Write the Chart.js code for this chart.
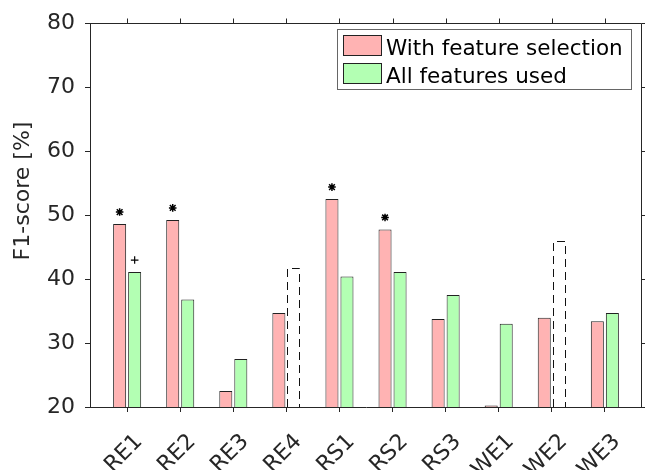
<!DOCTYPE html>
<html>
<head>
<meta charset="utf-8">
<script src="https://cdn.jsdelivr.net/npm/chart.js@4.4.1/dist/chart.umd.min.js"></script>
<style>
  html, body { margin: 0; padding: 0; background: #fff; }
  canvas { display: block; }
</style>
</head>
<body>
<canvas id="chart" width="645" height="470"></canvas>
<script>
// --- data ---
const categories = ['RE1', 'RE2', 'RE3', 'RE4', 'RS1', 'RS2', 'RS3', 'WE1', 'WE2', 'WE3'];
const withSelection = [48.6, 49.25, 22.5, 34.7, 52.5, 47.75, 33.75, 20.25, 33.95, 33.4];
const allFeatures = [41.1, 36.8, 27.5, 41.75, 40.4, 41.1, 37.5, 33.0, 45.9, 34.7];
const allFeaturesDashed = [false, false, false, true, false, false, false, false, true, false];
const selectionMarks = ['*', '*', '', '', '*', '*', '', '', '', ''];
const allFeaturesMarks = ['+', '', '', '', '', '', '', '', '', ''];
const yTicks = [20, 30, 40, 50, 60, 70, 80];

const AXIS = '#262626';
const FONT = 'DejaVu Sans';
const PINK = '#ffb3b3';
const GREEN = '#b3ffb3';

// extra drawing: box, mirrored ticks, dashed bars, markers, legend, y label
const decorations = {
    id: 'decorations',
    afterDraw(chart) {
        const ctx = chart.ctx;
        const area = chart.chartArea;
        const xs = chart.scales.x;
        const ys = chart.scales.y;
        const L = Math.round(area.left) + 0.5;
        const R = Math.round(area.right) - 0.5;
        const T = Math.round(area.top) + 0.5;

        ctx.save();
        ctx.strokeStyle = AXIS;
        ctx.lineWidth = 1;

        // top and right box lines
        ctx.beginPath();
        ctx.moveTo(L, T);
        ctx.lineTo(R, T);
        ctx.lineTo(R, Math.round(area.bottom));
        // top ticks
        categories.forEach((c, i) => {
            const px = Math.round(xs.getPixelForValue(i + 1)) + 0.5;
            ctx.moveTo(px, T);
            ctx.lineTo(px, T - 5);
        });
        // right ticks
        yTicks.forEach(v => {
            const py = Math.round(ys.getPixelForValue(v)) + 0.5;
            ctx.moveTo(R, py);
            ctx.lineTo(R + 5, py);
        });
        ctx.stroke();

        // dashed outlines
        const greenMeta = chart.getDatasetMeta(1);
        ctx.strokeStyle = '#111';
        ctx.setLineDash([8, 5]);
        greenMeta.data.forEach((el, i) => {
            if (!allFeaturesDashed[i]) return;
            const left = Math.round(el.x - el.width / 2) + 0.5;
            const right = Math.round(el.x + el.width / 2) - 0.5;
            const top = Math.round(el.y) + 0.5;
            const bottom = area.bottom;
            ctx.beginPath();
            ctx.moveTo(left, bottom);
            ctx.lineTo(left, top);
            ctx.lineTo(right, top);
            ctx.lineTo(right, bottom);
            ctx.stroke();
        });
        ctx.setLineDash([]);

        // significance markers
        const drawMark = (type, x, y) => {
            ctx.beginPath();
            if (type === '*') {
                const r = 3.8;
                ctx.moveTo(x - r, y); ctx.lineTo(x + r, y);
                ctx.moveTo(x, y - r); ctx.lineTo(x, y + r);
                ctx.moveTo(x - r * 0.75, y - r * 0.75); ctx.lineTo(x + r * 0.75, y + r * 0.75);
                ctx.moveTo(x - r * 0.75, y + r * 0.75); ctx.lineTo(x + r * 0.75, y - r * 0.75);
            } else if (type === '+') {
                const r = 3.8;
                ctx.moveTo(x - r, y); ctx.lineTo(x + r, y);
                ctx.moveTo(x, y - r); ctx.lineTo(x, y + r);
            }
            ctx.stroke();
        };
        ctx.strokeStyle = '#000';
        ctx.lineWidth = 1.5;
        chart.getDatasetMeta(0).data.forEach((el, i) => {
            if (selectionMarks[i]) drawMark(selectionMarks[i], el.x, el.y - 12);
        });
        ctx.lineWidth = 1.2;
        greenMeta.data.forEach((el, i) => {
            if (allFeaturesMarks[i]) drawMark(allFeaturesMarks[i], el.x, el.y - 12);
        });

        // legend box
        ctx.lineWidth = 1;
        ctx.fillStyle = '#fff';
        ctx.fillRect(337.5, 29.5, 294, 60);
        ctx.strokeStyle = '#666';
        ctx.strokeRect(337.5, 29.5, 294, 60);
        ctx.font = '21.5px ' + FONT;
        ctx.textBaseline = 'alphabetic';
        ctx.textAlign = 'left';
        chart.data.datasets.forEach((ds, i) => {
            const y0 = 35.5 + i * 28;
            ctx.fillStyle = ds.legendColor;
            ctx.fillRect(343.5, y0, 38, 20);
            ctx.strokeStyle = '#222';
            ctx.strokeRect(343.5, y0, 38, 20);
            ctx.fillStyle = '#000';
            ctx.fillText(ds.label, 386, y0 + 19);
        });

        // y-axis title
        ctx.fillStyle = AXIS;
        ctx.font = '22px ' + FONT;
        ctx.translate(23, 191);
        ctx.rotate(-Math.PI / 2);
        ctx.textAlign = 'center';
        ctx.textBaseline = 'middle';
        ctx.fillText('F1-score [%]', 0, 0);

        ctx.restore();
    }
};

const ctx = document.getElementById('chart');
new Chart(ctx, {
    type: 'bar',
    data: {
        datasets: [
            {
                label: 'With feature selection',
                data: withSelection.map((v, i) => ({ x: i + 1, y: v })),
                backgroundColor: PINK,
                legendColor: PINK,
                borderColor: '#222',
                borderWidth: 1,
                categoryPercentage: 0.566,
                barPercentage: 0.867
            },
            {
                label: 'All features used',
                data: allFeatures.map((v, i) => ({ x: i + 1, y: v })),
                backgroundColor: allFeaturesDashed.map(d => d ? 'rgba(0,0,0,0)' : GREEN),
                legendColor: GREEN,
                borderColor: '#222',
                borderWidth: allFeaturesDashed.map(d => d ? 0 : 1),
                categoryPercentage: 0.566,
                barPercentage: 0.867
            }
        ]
    },
    options: {
        responsive: false,
        animation: false,
        layout: { padding: { top: 19, right: 3, left: 0, bottom: 0 } },
        plugins: {
            legend: { display: false },
            tooltip: { enabled: false }
        },
        scales: {
            x: {
                type: 'linear',
                min: 0.3,
                max: 10.7,
                offset: false,
                afterBuildTicks: s => { s.ticks = categories.map((c, i) => ({ value: i + 1 })); },
                afterFit: s => { s.height = 63; },
                grid: { offset: false, drawOnChartArea: false, drawTicks: true, tickLength: 5, color: AXIS },
                border: { color: AXIS, width: 1 },
                ticks: {
                    autoSkip: false,
                    minRotation: 45,
                    maxRotation: 45,
                    padding: 17,
                    labelOffset: 12,
                    color: AXIS,
                    font: { family: FONT, size: 22 },
                    callback: v => categories[v - 1]
                }
            },
            y: {
                min: 20,
                max: 80,
                afterBuildTicks: s => { s.ticks = yTicks.map(v => ({ value: v })); },
                afterFit: s => { s.width = 90; },
                grid: { drawOnChartArea: false, drawTicks: true, tickLength: 5, color: AXIS },
                border: { color: AXIS, width: 1 },
                ticks: {
                    padding: 10,
                    color: AXIS,
                    font: { family: FONT, size: 22 }
                }
            }
        }
    },
    plugins: [decorations]
});
</script>
</body>
</html>
